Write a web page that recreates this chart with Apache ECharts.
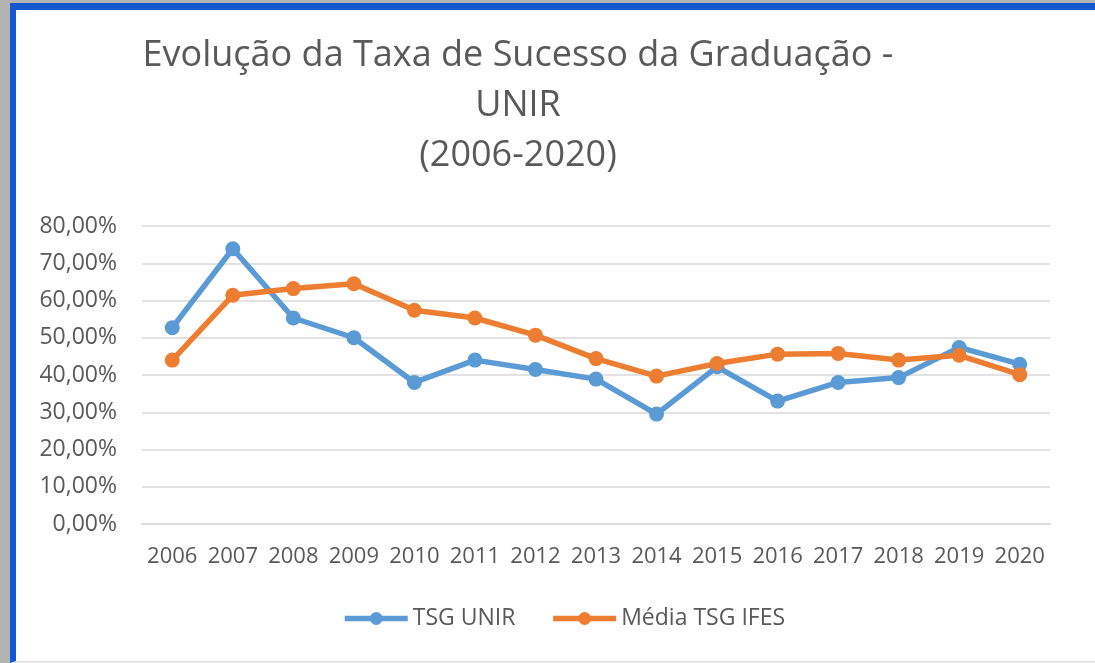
<!DOCTYPE html>
<html>
<head>
<meta charset="utf-8">
<script src="https://cdn.jsdelivr.net/npm/echarts@6/dist/echarts.min.js"></script>
<style>
  html, body { margin: 0; padding: 0; width: 1095px; height: 663px; overflow: hidden; background: #b3b3b3; }
  #frame {
    position: absolute; left: 10px; top: 3px; width: 1100px; height: 651px;
    background: #fff; border-top: 7px solid #1358d0; border-left: 6px solid #1358d0;
    border-bottom: 2px solid #e4e4e4;
  }
  #main { position: absolute; left: 0; top: 0; width: 1095px; height: 663px; }
</style>
</head>
<body>
<div id="frame"></div>
<div id="main"></div>
<script type="text/javascript">
    // anos (eixo x)
    var anos = ['2006', '2007', '2008', '2009', '2010', '2011', '2012', '2013',
                '2014', '2015', '2016', '2017', '2018', '2019', '2020'];
    // taxa de sucesso da graduação, em %
    var tsgUnir = [52.7, 73.9, 55.3, 50.0, 38.0, 44.0, 41.5, 38.9, 29.5, 42.2, 33.0, 38.0, 39.3, 47.4, 42.9];
    var mediaIfes = [44.0, 61.4, 63.2, 64.5, 57.4, 55.3, 50.7, 44.4, 39.7, 43.1, 45.6, 45.8, 44.0, 45.3, 40.1];
    var nomes = ['TSG UNIR', 'Média TSG IFES'];
    var cores = ['#5b9bd5', '#ed7d31'];

    var fonte = '"Open Sans", sans-serif';
    var corTexto = '#595959';

    var myChart = echarts.init(document.getElementById('main'));

    var serie = function (nome, dados, cor) {
        return {
            name: nome,
            type: 'line',
            data: dados,
            symbol: 'circle',
            symbolSize: 15,
            color: cor,
            lineStyle: { width: 5.5, color: cor },
            itemStyle: { color: cor },
            emphasis: { disabled: true },
            animation: false
        };
    };

    var option = {
        backgroundColor: 'transparent',
        title: {
            text: 'Evolução da Taxa de Sucesso da Graduação -\nUNIR\n(2006-2020)',
            left: 518,
            top: 31,
            padding: 0,
            textAlign: 'center',
            textStyle: {
                fontFamily: fonte,
                fontSize: 36,
                fontWeight: 'normal',
                color: corTexto,
                lineHeight: 50
            }
        },
        legend: {
            data: nomes,
            left: 342,
            top: 607,
            padding: 0,
            itemWidth: 63,
            itemHeight: 16,
            itemGap: 35,
            lineStyle: { width: 5.5 },
            textStyle: { fontFamily: fonte, fontSize: 23, color: corTexto }
        },
        grid: {
            left: 142,
            right: 45,
            top: 226,
            bottom: 139,
            containLabel: false
        },
        xAxis: {
            type: 'category',
            data: anos,
            boundaryGap: true,
            axisLine: { lineStyle: { color: '#d9d9d9', width: 1.5 } },
            axisTick: { show: false },
            axisLabel: {
                margin: 22,
                interval: 0,
                fontFamily: fonte,
                fontSize: 22,
                color: corTexto
            }
        },
        yAxis: {
            type: 'value',
            min: 0,
            max: 80,
            interval: 10,
            axisLine: { show: false },
            axisTick: { show: false },
            splitLine: { lineStyle: { color: '#d9d9d9', width: 1.5 } },
            axisLabel: {
                margin: 25,
                fontFamily: fonte,
                fontSize: 23,
                color: corTexto,
                formatter: function (v) {
                    return v.toFixed(2).replace('.', ',') + '%';
                }
            }
        },
        series: [
            serie(nomes[0], tsgUnir, cores[0]),
            serie(nomes[1], mediaIfes, cores[1])
        ]
    };
    myChart.setOption(option);
</script>
</body>
</html>
